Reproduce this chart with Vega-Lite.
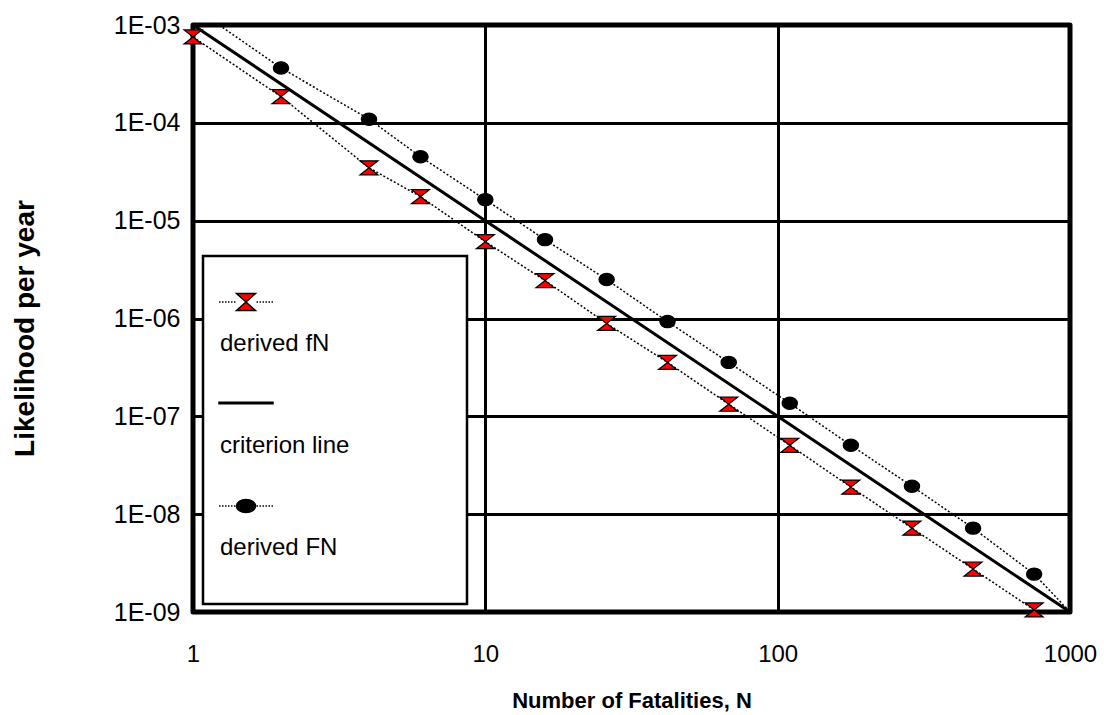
{
  "$schema": "https://vega.github.io/schema/vega-lite/v6.json",
  "width": 877,
  "height": 587,
  "autosize": {"type": "none"},
  "padding": {"left": 193, "top": 25, "right": 34, "bottom": 103},
  "background": "white",
  "config": {
    "view": {"stroke": "black", "strokeWidth": 5, "strokeJoin": "round"},
    "font": "Liberation Sans",
    "axis": {
      "domain": false,
      "ticks": false,
      "tickSize": 0,
      "grid": true,
      "gridColor": "black",
      "gridWidth": 3,
      "gridOpacity": 1,
      "labelFont": "Liberation Sans",
      "labelFontSize": 24,
      "labelColor": "black",
      "labelFlush": false,
      "labelOverlap": false,
      "titleFont": "Liberation Sans",
      "titleFontWeight": "bold",
      "titleColor": "black"
    },
    "legend": {
      "title": null,
      "padding": 16,
      "rowPadding": 0,
      "symbolSize": 24336,
      "symbolOffset": -52,
      "symbolStrokeColor": "black",
      "symbolStrokeWidth": 1.5,
      "symbolOpacity": 1,
      "labelFont": "Liberation Sans",
      "labelFontSize": 24,
      "labelColor": "black",
      "labelOffset": -105,
      "labelBaseline": "alphabetic",
      "labelLimit": 400,
      "strokeColor": "black",
      "strokeWidth": 2.5,
      "fillColor": "white"
    }
  },
  "data": {
    "values": [
      {"series": "criterion line", "N": 1, "F": 1e-3},
      {"series": "criterion line", "N": 10, "F": 1e-5},
      {"series": "criterion line", "N": 100, "F": 1e-7},
      {"series": "criterion line", "N": 1000, "F": 1e-9},

      {"series": "derived fN", "N": 1, "F": 7.55e-4},
      {"series": "derived fN", "N": 2, "F": 1.85e-4},
      {"series": "derived fN", "N": 4, "F": 3.47e-5},
      {"series": "derived fN", "N": 6, "F": 1.76e-5},
      {"series": "derived fN", "N": 10, "F": 6.1e-6},
      {"series": "derived fN", "N": 16, "F": 2.44e-6},
      {"series": "derived fN", "N": 26, "F": 8.9e-7},
      {"series": "derived fN", "N": 42, "F": 3.56e-7},
      {"series": "derived fN", "N": 68, "F": 1.33e-7},
      {"series": "derived fN", "N": 110, "F": 5.06e-8},
      {"series": "derived fN", "N": 178, "F": 1.89e-8},
      {"series": "derived fN", "N": 288, "F": 7.2e-9},
      {"series": "derived fN", "N": 466, "F": 2.75e-9},
      {"series": "derived fN", "N": 754, "F": 1.05e-9},

      {"series": "derived FN", "N": 1, "F": 1.53e-3},
      {"series": "derived FN", "N": 2, "F": 3.64e-4},
      {"series": "derived FN", "N": 4, "F": 1.09e-4},
      {"series": "derived FN", "N": 6, "F": 4.5e-5},
      {"series": "derived FN", "N": 10, "F": 1.64e-5},
      {"series": "derived FN", "N": 16, "F": 6.4e-6},
      {"series": "derived FN", "N": 26, "F": 2.5e-6},
      {"series": "derived FN", "N": 42, "F": 9.3e-7},
      {"series": "derived FN", "N": 68, "F": 3.56e-7},
      {"series": "derived FN", "N": 110, "F": 1.36e-7},
      {"series": "derived FN", "N": 178, "F": 5.06e-8},
      {"series": "derived FN", "N": 288, "F": 1.93e-8},
      {"series": "derived FN", "N": 466, "F": 7.2e-9},
      {"series": "derived FN", "N": 754, "F": 2.44e-9},
      {"series": "derived FN", "N": 1000, "F": 1e-9}
    ]
  },
  "encoding": {
    "x": {
      "field": "N",
      "type": "quantitative",
      "scale": {"type": "log", "domain": [1, 1000], "nice": false},
      "axis": {
        "values": [1, 10, 100, 1000],
        "labelExpr": "round(datum.value)",
        "labelPadding": 30,
        "title": "Number of Fatalities, N",
        "titleFontSize": 22,
        "titleY": 95,
        "titleBaseline": "alphabetic"
      }
    },
    "y": {
      "field": "F",
      "type": "quantitative",
      "scale": {"type": "log", "domain": [1e-9, 1e-3], "nice": false},
      "axis": {
        "values": [1e-9, 1e-8, 1e-7, 1e-6, 1e-5, 1e-4, 1e-3],
        "labelExpr": "'1E-0' + round(-log(datum.value) / LN10)",
        "labelFontSize": 25,
        "labelPadding": 13,
        "title": "Likelihood per year",
        "titleFontSize": 28,
        "titleAngle": 270,
        "titleX": -160,
        "titleY": 303,
        "titleBaseline": "alphabetic"
      }
    }
  },
  "layer": [
    {
      "transform": [{"filter": "datum.series === 'criterion line'"}],
      "mark": {"type": "line", "color": "black", "strokeWidth": 3}
    },
    {
      "transform": [{"filter": "datum.series !== 'criterion line'"}],
      "mark": {"type": "line", "color": "black", "strokeWidth": 1.5, "strokeDash": [2, 2], "clip": true},
      "encoding": {"detail": {"field": "series"}}
    },
    {
      "transform": [{"filter": "datum.series === 'derived fN' || (datum.series === 'derived FN' && datum.F < 1e-3 && datum.N < 1000)"}],
      "mark": {"type": "point", "filled": true, "size": 324, "stroke": "black", "strokeWidth": 1.2, "opacity": 1},
      "encoding": {
        "shape": {
          "field": "series",
          "type": "nominal",
          "scale": {
            "domain": ["derived fN", "derived FN"],
            "range": [
              "M-1,-0.78L1,-0.78L-1,0.78L1,0.78Z",
              "M-0.85,0A0.85,0.68 0 1,0 0.85,0A0.85,0.68 0 1,0 -0.85,0Z"
            ]
          },
          "legend": null
        },
        "fill": {
          "field": "series",
          "type": "nominal",
          "scale": {"domain": ["derived fN", "derived FN"], "range": ["#ff0000", "black"]},
          "legend": null
        }
      }
    },
    {
      "transform": [{"filter": "false"}],
      "mark": {"type": "point", "filled": true, "opacity": 1},
      "encoding": {
        "shape": {
          "field": "series",
          "type": "nominal",
          "scale": {
            "domain": ["derived fN", "criterion line", "derived FN"],
            "range": [
              "M-0.346,-1M2.577,0.224M-0.346,-0.628H-0.327M-0.308,-0.628H-0.288M-0.269,-0.628H-0.25M-0.231,-0.628H-0.212M-0.192,-0.628H-0.173M-0.154,-0.628H-0.135M0.135,-0.628H0.154M0.173,-0.628H0.192M0.212,-0.628H0.231M0.25,-0.628H0.269M0.288,-0.628H0.308M0.327,-0.628H0.346M-0.122,-0.737L0.122,-0.737L-0.122,-0.519L0.122,-0.519Z",
              "M-0.346,-1M2.577,0.224M-0.346,-0.651H0.346V-0.631H-0.346Z",
              "M-0.346,-1M2.577,0.372M-0.346,-0.628H-0.327M-0.308,-0.628H-0.288M-0.269,-0.628H-0.25M-0.231,-0.628H-0.212M-0.192,-0.628H-0.173M-0.154,-0.628H-0.135M0.135,-0.628H0.154M0.173,-0.628H0.192M0.212,-0.628H0.231M0.25,-0.628H0.269M0.288,-0.628H0.308M0.327,-0.628H0.346M-0.122,-0.628A0.122,0.0833 0 1,0 0.122,-0.628A0.122,0.0833 0 1,0 -0.122,-0.628Z"
            ]
          },
          "legend": {"orient": "none", "legendX": 10, "legendY": 231}
        },
        "fill": {
          "field": "series",
          "type": "nominal",
          "scale": {
            "domain": ["derived fN", "criterion line", "derived FN"],
            "range": ["#ff0000", "black", "black"]
          },
          "legend": {"orient": "none", "legendX": 10, "legendY": 231}
        },
        "stroke": {
          "field": "series",
          "type": "nominal",
          "scale": {
            "domain": ["derived fN", "criterion line", "derived FN"],
            "range": ["black", "black", "black"]
          },
          "legend": {"orient": "none", "legendX": 10, "legendY": 231}
        }
      }
    }
  ],
  "resolve": {"scale": {"shape": "independent", "fill": "independent", "stroke": "independent"}}
}
